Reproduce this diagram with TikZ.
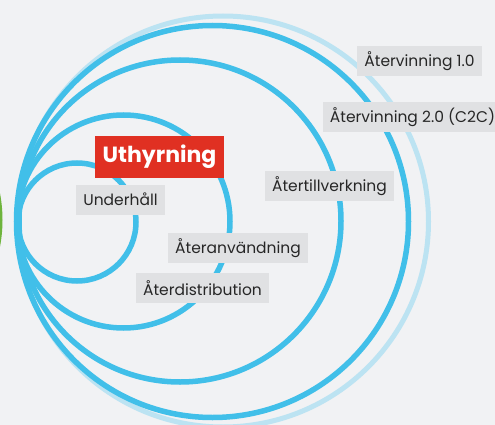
\documentclass[tikz,border=0pt]{standalone}
\usepackage{fontspec}
\setmainfont{Poppins}
\definecolor{ringblue}{RGB}{65,191,233}
\definecolor{ringlight}{RGB}{188,227,242}
\definecolor{boxgray}{RGB}{224,225,227}
\definecolor{pagegray}{RGB}{241,242,244}
\definecolor{tagred}{RGB}{224,48,34}
\definecolor{arcgreen}{RGB}{110,180,60}
\tikzset{
  ring/.style={draw=ringblue, line width=5.5},
  ringfaint/.style={draw=ringlight, line width=5},
  tag/.style={fill=boxgray, text=black!85, font=\fontsize{15.5}{18}\selectfont, inner xsep=7, minimum height=30},
  tagmain/.style={fill=tagred, text=white, font=\bfseries\fontsize{22}{26}\selectfont, inner xsep=8, minimum height=41}
}
\begin{document}
\begin{tikzpicture}[x=1pt,y=1pt,yscale=-1,xscale=1]
	\useasboundingbox (0,0) rectangle (495,425);
	\fill [pagegray] (0,0) rectangle (495,425);
	\clip (0,0) rectangle (495,425);
	
	%Shape: Circle [green, cut by the edge]
	\draw [draw=arcgreen, line width=5] (-140,220) circle (140);
	%Shape: Circle [Återvinning 1.0]
	\draw [ringfaint] (223,221.5) circle (205.5);
	%Shape: Circle [Återvinning 2.0]
	\draw [ring] (212.5,221.5) circle (196);
	%Shape: Circle [Återtillverkning]
	\draw [ring] (180,221) circle (161);
	%Shape: Circle [Återanvändning]
	\draw [ring] (123.5,221.5) circle (106.5);
	%Shape: Circle [Underhåll]
	\draw [ring] (77,222) circle (59);
	
	% Text Node
	\node [tag] (atervinning1) at (419.5,61) {Återvinning 1.0};
	% Text Node
	\node [tag] (atervinning2) at (412.5,117) {Återvinning 2.0 (C2C)};
	% Text Node
	\node [tagmain] (uthyrning) at (159.5,157) {Uthyrning};
	% Text Node
	\node [tag] (underhall) at (120.5,199.5) {Underhåll};
	% Text Node
	\node [tag] (atertillverkning) at (329.5,186) {Återtillverkning};
	% Text Node
	\node [tag] (ateranvandning) at (238,248) {Återanvändning};
	% Text Node
	\node [tag] (aterdistribution) at (202.5,288) {Återdistribution};
	
\end{tikzpicture}
\end{document}
